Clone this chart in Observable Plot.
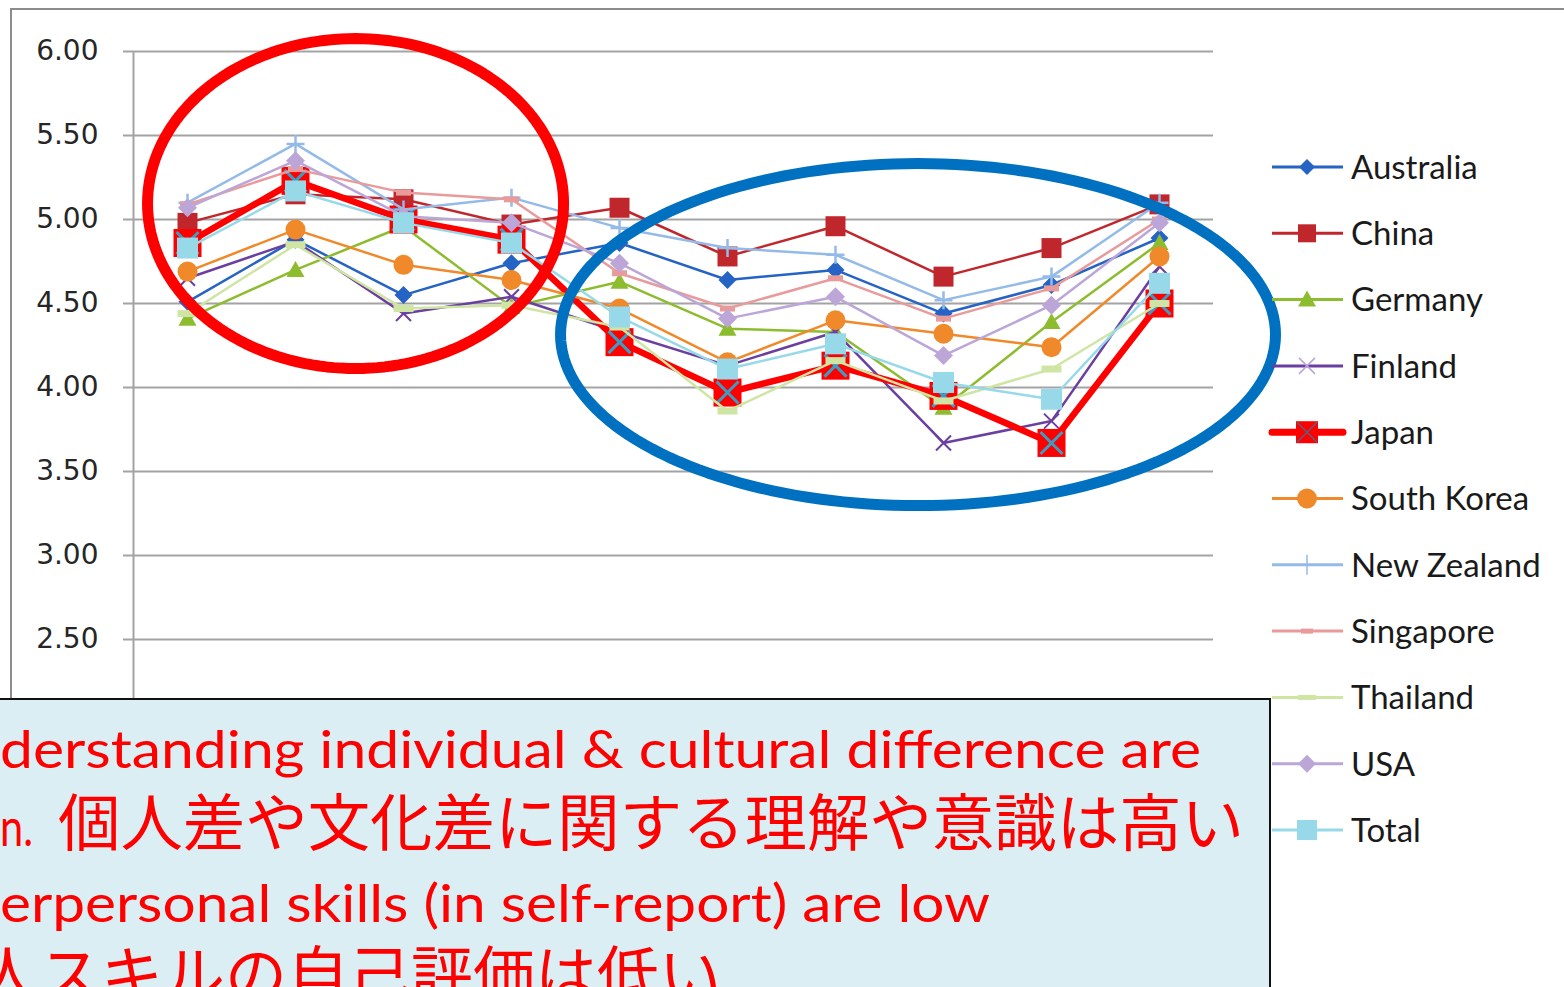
<!DOCTYPE html>
<html><head><meta charset="utf-8">
<script src="https://cdn.jsdelivr.net/npm/d3@7"></script>
<script src="https://cdn.jsdelivr.net/npm/@observablehq/plot@0.6"></script>
<style>
html,body{margin:0;padding:0;background:#fff;}
#wrap{position:relative;width:1564px;height:987px;overflow:hidden;background:#fff;}
#chart{position:absolute;left:0;top:0;}
#frame{position:absolute;left:10px;top:8px;width:1700px;height:1200px;border:2px solid #8c8c8c;box-sizing:border-box;pointer-events:none;}
#legend{position:absolute;left:0;top:0;}
#note{position:absolute;left:-100px;top:698px;width:1371px;height:400px;background:#DAEEF3;border:2px solid #111;box-sizing:border-box;}
#notetext{position:absolute;left:0;top:0;}
</style></head><body>
<div id="wrap">
  <div id="chart"></div>
  <div id="frame"></div>
  <svg id="legend" width="1564" height="987"></svg>
  <div id="note"></div>
  <svg id="notetext" width="1564" height="987"></svg>
</div>
<script>
// ---------- data ----------
const items = ["1","2","3","4","5","6","7","8","9","10"];
const seriesNames = ["Australia","China","Germany","Finland","Japan","South Korea","New Zealand","Singapore","Thailand","USA","Total"];
const australia  = [4.51, 4.88, 4.55, 4.74, 4.86, 4.64, 4.70, 4.44, 4.61, 4.89];
const china      = [4.98, 5.15, 5.12, 4.97, 5.07, 4.78, 4.96, 4.66, 4.83, 5.09];
const germany    = [4.41, 4.70, 4.96, 4.48, 4.63, 4.35, 4.33, 3.88, 4.39, 4.86];
const finland    = [4.65, 4.87, 4.44, 4.54, 4.33, 4.13, 4.33, 3.67, 3.80, 4.72];
const japan      = [4.86, 5.23, 5.00, 4.88, 4.27, 3.97, 4.13, 3.95, 3.67, 4.50];
const southKorea = [4.69, 4.94, 4.73, 4.64, 4.47, 4.15, 4.40, 4.32, 4.24, 4.78];
const newZealand = [5.10, 5.45, 5.06, 5.13, 4.95, 4.83, 4.79, 4.52, 4.66, 5.10];
const singapore  = [5.09, 5.30, 5.16, 5.12, 4.68, 4.47, 4.65, 4.41, 4.59, 5.00];
const thailand   = [4.44, 4.85, 4.47, 4.49, 4.36, 3.86, 4.16, 3.92, 4.11, 4.50];
const usa        = [5.07, 5.35, 5.02, 4.98, 4.74, 4.41, 4.54, 4.19, 4.49, 4.98];
const total      = [4.83, 5.17, 4.98, 4.86, 4.42, 4.11, 4.26, 4.03, 3.93, 4.62];
const seriesValues = [australia, china, germany, finland, japan, southKorea, newZealand, singapore, thailand, usa, total];
const yTicks = [2.5, 3.0, 3.5, 4.0, 4.5, 5.0, 5.5, 6.0];

// annotation ellipses (in data units: item index / score)
const ellipseSpecs = [
  {cx: 1.556, cy: 5.095, rx: 1.926, ry: 0.982, color: "#FF0000"},
  {cx: 6.764, cy: 4.315, rx: 3.31, ry: 1.018, color: "#0070C0"}
];

const noteLines = [
  {text: "derstanding individual & cultural difference are"},
  {text: "n.", cjk: "個人差や文化差に関する理解や意識は高い"},
  {text: "erpersonal skills (in self-report) are low"},
  {cjk: "人スキルの自己評価は低い"}
];

// ---------- marker shapes ----------
const sym = {
  diamond: h => ({draw(c){c.moveTo(0,-h);c.lineTo(h,0);c.lineTo(0,h);c.lineTo(-h,0);c.closePath();}}),
  square: s => ({draw(c){c.rect(-s/2,-s/2,s,s);}}),
  triangle: h => ({draw(c){c.moveTo(0,-h);c.lineTo(h,h*0.78);c.lineTo(-h,h*0.78);c.closePath();}}),
  times: h => ({draw(c){c.moveTo(-h,-h);c.lineTo(h,h);c.moveTo(h,-h);c.lineTo(-h,h);}}),
  plus: h => ({draw(c){c.moveTo(-h,0);c.lineTo(h,0);c.moveTo(0,-h);c.lineTo(0,h);}}),
  circle: r => ({draw(c){c.moveTo(r,0);c.arc(0,0,r,0,2*Math.PI);}}),
  dash: (w,h) => ({draw(c){c.rect(-w/2,-h/2,w,h);}})
};

const styles = [
  {color:"#2563C4", width:2.5, markers:[{symbol:sym.diamond(9), fill:"#2563C4"}], legend:[{symbol:sym.diamond(8), fill:"#2563C4"}]},
  {color:"#C0272D", width:2.5, markers:[{symbol:sym.square(20), fill:"#C0272D"}], legend:[{symbol:sym.square(18), fill:"#C0272D"}]},
  {color:"#8DBD2F", width:2.5, markers:[{symbol:sym.triangle(9), fill:"#8DBD2F"}], legend:[{symbol:sym.triangle(9), fill:"#8DBD2F"}]},
  {color:"#6B3FA0", width:2.5, markers:[{symbol:sym.times(7.5), stroke:"#6B3FA0", sw:2}], legend:[{symbol:sym.times(8), stroke:"#B9A3DA", sw:1.5}]},
  {color:"#FF0000", width:6.5, markers:[{symbol:sym.square(28), fill:"#FF0000"},{symbol:sym.times(11), stroke:"#3C9DC4", sw:3}], legend:[{symbol:sym.square(22), fill:"#FF0000"},{symbol:sym.times(10), stroke:"#5A6080", sw:1.5}]},
  {color:"#F0892A", width:2.5, markers:[{symbol:sym.circle(10), fill:"#F0892A"}], legend:[{symbol:sym.circle(10), fill:"#F0892A"}]},
  {color:"#94BBE8", width:2.5, markers:[{symbol:sym.plus(9), stroke:"#94BBE8", sw:2.5}], legend:[{symbol:sym.plus(10), stroke:"#94BBE8", sw:1.5}]},
  {color:"#E99A9A", width:2.5, markers:[{symbol:sym.dash(15,6), fill:"#E99A9A"}], legend:[{symbol:sym.dash(12,5), fill:"#E99A9A"}]},
  {color:"#CFE5A3", width:2.5, markers:[{symbol:sym.dash(20,7), fill:"#CFE5A3"}], legend:[{symbol:sym.dash(18,5), fill:"#CFE5A3"}]},
  {color:"#BCA6D8", width:2.5, markers:[{symbol:sym.diamond(9.5), fill:"#BCA6D8"}], legend:[{symbol:sym.diamond(9), fill:"#BCA6D8"}]},
  {color:"#97D9E8", width:2.5, markers:[{symbol:sym.square(21), fill:"#97D9E8"}], legend:[{symbol:sym.square(20), fill:"#97D9E8"}]}
];

// ---------- tidy table ----------
const rows = seriesNames.map((name, s) => seriesValues[s].map((v, i) => ({series: name, item: items[i], idx: i, value: v})));

const seriesMarks = [];
rows.forEach((data, s) => {
  const st = styles[s];
  seriesMarks.push(Plot.line(data, {x: "idx", y: "value", stroke: st.color, strokeWidth: st.width, strokeLinejoin: "round"}));
  st.markers.forEach(m => {
    seriesMarks.push(Plot.dot(data, {x: "idx", y: "value", symbol: m.symbol, r: 5,
      fill: m.fill || "none", stroke: m.stroke || "none", strokeWidth: m.sw || 0}));
  });
});

const ellipseMarks = ellipseSpecs.map(e => {
  const pts = d3.range(0, 360, 2).map(a => ({x: e.cx + e.rx*Math.cos(a*Math.PI/180), y: e.cy + e.ry*Math.sin(a*Math.PI/180)}));
  return Plot.line(pts, {x: "x", y: "y", stroke: e.color, strokeWidth: 11, curve: "linear-closed"});
});

const plot = Plot.plot({
  width: 1564, height: 760,
  marginLeft: 133, marginRight: 351, marginTop: 51, marginBottom: 37,
  x: {type: "linear", domain: [-0.5, items.length - 0.5], axis: null},
  y: {domain: [2, 6]},
  style: {background: "transparent", overflow: "visible", fontFamily: "DejaVu Sans"},
  marks: [
    Plot.gridY([2.0, ...yTicks], {stroke: "#a3a3a3", strokeOpacity: 1, strokeWidth: 2}),
    Plot.axisY(yTicks, {tickSize: 10, tickPadding: 25, stroke: "#a3a3a3", strokeWidth: 2, strokeOpacity: 1,
      fill: "#262626", fontSize: 28, tickFormat: d3.format(".2f"), label: null}),
    Plot.ruleX([-0.5], {stroke: "#a3a3a3", strokeWidth: 2}),
    ...seriesMarks,
    ...ellipseMarks
  ]
});
document.getElementById("chart").appendChild(plot);

// ---------- legend ----------
const lg = d3.select("#legend");
seriesNames.forEach((name, s) => {
  const st = styles[s];
  const y = 167 + s * 66.3;
  lg.append("line").attr("x1", 1272).attr("x2", 1343).attr("y1", y).attr("y2", y)
    .attr("stroke", st.color).attr("stroke-width", s === 4 ? 7 : 3).attr("stroke-linecap", s === 4 ? "round" : "butt");
  st.legend.forEach(m => {
    lg.append("path").attr("d", d3.symbol(m.symbol, 64)()).attr("transform", `translate(1307,${y})`)
      .attr("fill", m.fill || "none").attr("stroke", m.stroke || "none").attr("stroke-width", m.sw || 0);
  });
  lg.append("text").attr("x", 1351).attr("y", y).attr("dy", "0.36em")
    .attr("font-family", "Lato").attr("font-size", 33).attr("fill", "#1a1a1a").text(name);
});

// ---------- note text ----------
const nt = d3.select("#notetext");
const addText = (x, y, str, size, fam, len) => {
  const t = nt.append("text").attr("x", x).attr("y", y).attr("font-size", size)
    .attr("font-family", fam).attr("fill", "#FF0000").text(str);
  if (len) t.attr("textLength", len).attr("lengthAdjust", "spacingAndGlyphs");
};
addText(0, 768, noteLines[0].text, 52, "Lato", 1201);
addText(0, 846, noteLines[1].text, 52, "Lato", 33);
addText(58, 846, noteLines[1].cjk, 62, "Noto Sans CJK JP", 1186);
addText(0, 922, noteLines[2].text, 52, "Lato", 990);
addText(-23, 998, noteLines[3].cjk, 62, "Noto Sans CJK JP", 744);
</script>
</body></html>
